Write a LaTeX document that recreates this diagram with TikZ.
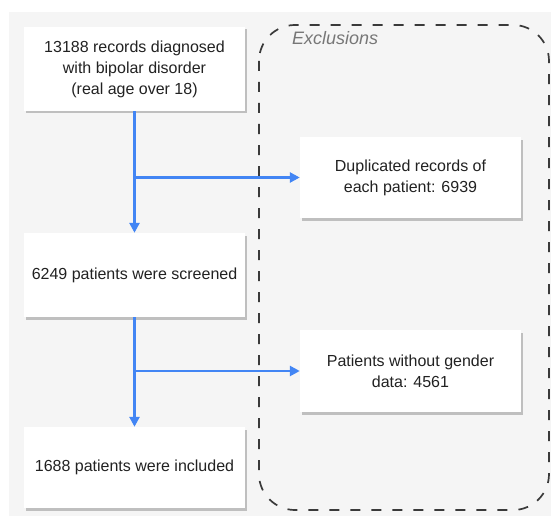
\documentclass[tikz,border=0pt]{standalone}
\usepackage{fontspec}
\setmainfont{Liberation Sans}
\usetikzlibrary{arrows.meta,shadows}
\definecolor{bgc}{HTML}{F5F5F5}
\definecolor{flowblue}{HTML}{4285F4}
\definecolor{txt}{HTML}{222222}
\definecolor{dashc}{HTML}{3A3A3A}
\definecolor{exc}{HTML}{777777}
\tikzset{
  flowbox/.style={draw=none, fill=white, minimum width=221pt, inner sep=0pt,
    align=center, text=txt, font=\fontsize{16}{21}\selectfont,
    drop shadow={shadow xshift=1.5pt, shadow yshift=-2.5pt, fill=black, opacity=0.22}},
  flowline/.style={draw=flowblue, line width=2.6pt},
  flowarrow/.style={flowline, -{Triangle[length=10pt,width=10pt]}},
  exclframe/.style={draw=dashc, line width=1.7pt, dash pattern=on 10pt off 11pt, rounded corners=36pt},
}
\begin{document}
\begin{tikzpicture}[x=1pt,y=-1pt]
\useasboundingbox (0,0) rectangle (551,516);
\fill[white] (0,0) rectangle (551,516);
\fill[bgc] (9,12) rectangle (551,516);
\draw[exclframe] (259,25) rectangle (549,510);
\node[anchor=base west, font=\fontsize{18}{21}\selectfont\itshape, text=exc, inner sep=0pt] (exlabel) at (292,45) {Exclusions};
\node[flowbox, minimum height=84pt] (rec) at (134.5,69) {13188 records diagnosed\\with bipolar disorder\\(real age over 18)};
\node[flowbox, minimum height=84pt] (scr) at (134.5,275) {6249 patients were screened};
\node[flowbox, minimum height=81pt] (inc) at (134.5,467.5) {1688 patients were included};
\node[flowbox, minimum height=81pt] (dup) at (410.5,177.5) {Duplicated records of\\each patient: 6939};
\node[flowbox, minimum height=82pt] (gen) at (410.5,371) {Patients without gender\\data: 4561};
\coordinate (j1) at (rec.south |- dup.west);
\coordinate (j2) at (scr.south |- gen.west);
\draw[flowarrow] (rec.south) -- (scr.north);
\draw[flowarrow] (scr.south) -- (inc.north);
\draw[flowarrow] (j1) -- (dup.west);
\draw[flowarrow] (j2) -- (gen.west);
\end{tikzpicture}
\end{document}
